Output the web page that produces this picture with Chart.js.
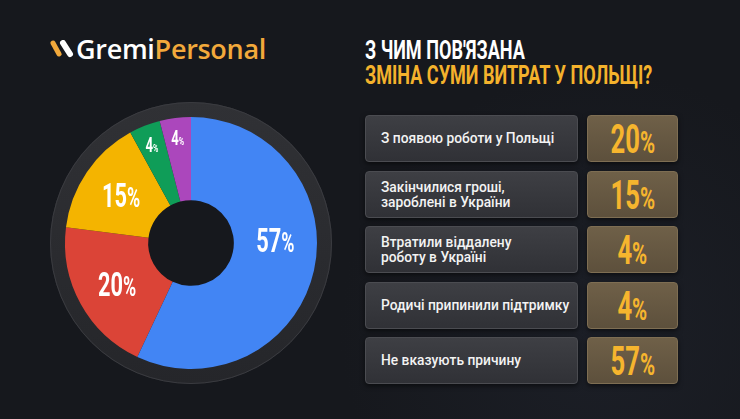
<!DOCTYPE html>
<html>
<head>
<meta charset="utf-8">
<script src="https://cdn.jsdelivr.net/npm/chart.js@4/dist/chart.umd.min.js"></script>
<style>
  body { margin: 0; background: #16181d; }
  #stage { position: relative; width: 740px; height: 419px; overflow: hidden;
    background: radial-gradient(circle at 600px 330px, #1c1f27 0, #16181d 260px),
                #16181d;
    font-family: Roboto, "Noto Sans", sans-serif; }
  #logo { position: absolute; left: 48px; top: 36px; height: 28px; }
  #logo svg { position: absolute; left: 0; top: 4px; }
  #logo .txt { position: absolute; left: 28px; top: -6px; font-family: "Open Sans", sans-serif;
    font-size: 27px; font-weight: 600; color: #fff; white-space: nowrap; letter-spacing: -0.3px; }
  #logo .txt b { font-weight: 600; color: #f2a93b; }
  .title { position: absolute; left: 365px; font-weight: 700; font-size: 26px; line-height: 26px;
    white-space: nowrap; transform-origin: left top; transform: scaleX(0.695); }
  #t1 { top: 37px; color: #fff; }
  #t2 { top: 62px; color: #f4b22c; }
  #chartWrap { position: absolute; left: 41px; top: 93px; width: 300px; height: 300px; }
  .row { position: absolute; left: 365px; height: 47px; }
  .lbl { position: absolute; left: 0; top: 0; height: 45px; border-radius: 4px;
    background: linear-gradient(180deg, #3e3f44 0%, #303136 100%);
    border: 1px solid #4b4c51; box-shadow: 0 2px 5px rgba(0,0,0,0.55);
    display: flex; align-items: center; padding-left: 15px; box-sizing: content-box;
    width: 196px; color: #f3f3f3; font-size: 13.8px; font-weight: 500; line-height: 15px;
    white-space: pre-line; }
  .val { position: absolute; left: 222px; top: 0; width: 89px; height: 45px; border-radius: 4px;
    background: linear-gradient(180deg, #6f6048 0%, #5d503c 100%);
    border: 1px solid #7e6e53; box-shadow: 0 2px 5px rgba(0,0,0,0.55);
    display: flex; align-items: center; justify-content: center; color: #f6b52e; }
  .val span { display: inline-block; font-size: 40px; font-weight: 700; transform: scaleX(0.64);
    margin-top: 2px; }
  .val span small { font-size: 32px; }
</style>
</head>
<body>
<div id="stage">
  <div id="logo">
    <svg width="30" height="20">
      <line x1="5" y1="3" x2="11" y2="14" stroke="#f2a93b" stroke-width="5" stroke-linecap="round"/>
      <line x1="15" y1="3" x2="22" y2="14" stroke="#ffffff" stroke-width="6" stroke-linecap="round"/>
    </svg>
    <div class="txt">Gremi<b>Personal</b></div>
  </div>
  <div class="title" id="t1">З ЧИМ ПОВ'ЯЗАНА</div>
  <div class="title" id="t2">ЗМІНА СУМИ ВИТРАТ У ПОЛЬЩІ?</div>
  <div id="chartWrap"><canvas id="donut" width="300" height="300"></canvas></div>
  <div id="rows"></div>
</div>
<script>
// categories and shares in the order of the list on the right
const categories = [
  'З появою роботи у Польщі',
  'Закінчилися гроші,\nзароблені в України',
  'Втратили віддалену\nроботу в Україні',
  'Родичі припинили підтримку',
  'Не вказують причину'
];
const shares = [20, 15, 4, 4, 57];
const sliceColors = ['#db4437', '#f4b400', '#0f9d58', '#ab47bc', '#4285f4'];

// the list boxes
const rowTops = [115, 171, 226, 282, 337];
const rows = document.getElementById('rows');
categories.forEach(function(cat, i) {
  const row = document.createElement('div');
  row.className = 'row';
  row.style.top = rowTops[i] + 'px';
  row.innerHTML = '<div class="lbl">' + cat + '</div>' +
    '<div class="val"><span>' + shares[i] + '<small>%</small></span></div>';
  rows.appendChild(row);
});

// dark ring round the donut
const ringPlugin = {
  id: 'ring',
  beforeDatasetsDraw(chart) {
    const arc = chart.getDatasetMeta(0).data[0];
    const ctx = chart.ctx;
    ctx.save();
    ctx.beginPath();
    ctx.arc(arc.x, arc.y, 141, 0, Math.PI * 2);
    ctx.arc(arc.x, arc.y, 124, 0, Math.PI * 2, true);
    const g = ctx.createLinearGradient(0, arc.y - 141, 0, arc.y + 141);
    g.addColorStop(0, '#303135');
    g.addColorStop(1, '#25262a');
    ctx.fillStyle = g;
    ctx.fill();
    ctx.beginPath();
    ctx.arc(arc.x, arc.y, 140.5, 0, Math.PI * 2);
    ctx.strokeStyle = '#3a3b40';
    ctx.lineWidth = 1;
    ctx.stroke();
    ctx.restore();
  }
};

// percent labels on the slices, narrow like a condensed face
const labelPlugin = {
  id: 'sliceLabels',
  afterDatasetsDraw(chart) {
    const ctx = chart.ctx;
    const meta = chart.getDatasetMeta(0);
    meta.data.forEach(function(arc, i) {
      const v = shares[i];
      const small = v < 10;
      // big slice label sits a little nearer its start, as in the original
      const mid = v > 50 ? arc.startAngle + (arc.endAngle - arc.startAngle) * 0.43
                         : (arc.startAngle + arc.endAngle) / 2;
      const r = small ? arc.outerRadius - 20 : (arc.innerRadius + arc.outerRadius) / 2;
      const x = arc.x + Math.cos(mid) * r;
      const y = arc.y + Math.sin(mid) * r;
      const numSize = small ? 20 : 33;
      const pctSize = small ? 11 : 27;
      const sx = 0.66;
      ctx.save();
      ctx.fillStyle = '#ffffff';
      ctx.textBaseline = 'alphabetic';
      ctx.font = '700 ' + numSize + 'px Roboto';
      const w1 = ctx.measureText(String(v)).width;
      ctx.font = '700 ' + pctSize + 'px Roboto';
      const w2 = ctx.measureText('%').width;
      ctx.translate(x, y + numSize * 0.36);
      ctx.scale(sx, 1);
      const x0 = -(w1 + w2) / 2;
      ctx.font = '700 ' + numSize + 'px Roboto';
      ctx.fillText(String(v), x0, 0);
      ctx.font = '700 ' + pctSize + 'px Roboto';
      ctx.fillText('%', x0 + w1, 0);
      ctx.restore();
    });
  }
};

const total = shares.reduce((a, b) => a + b, 0);

new Chart(document.getElementById('donut'), {
  type: 'doughnut',
  data: {
    labels: categories,
    datasets: [{
      data: shares,
      backgroundColor: sliceColors,
      borderWidth: 0
    }]
  },
  options: {
    responsive: false,
    animation: false,
    radius: 126,
    cutout: 51,
    // the last slice (57%) starts at the top
    rotation: 360 * shares[shares.length - 1] / total,
    plugins: { legend: { display: false }, tooltip: { enabled: false } }
  },
  plugins: [ringPlugin, labelPlugin]
});
</script>
</body>
</html>
